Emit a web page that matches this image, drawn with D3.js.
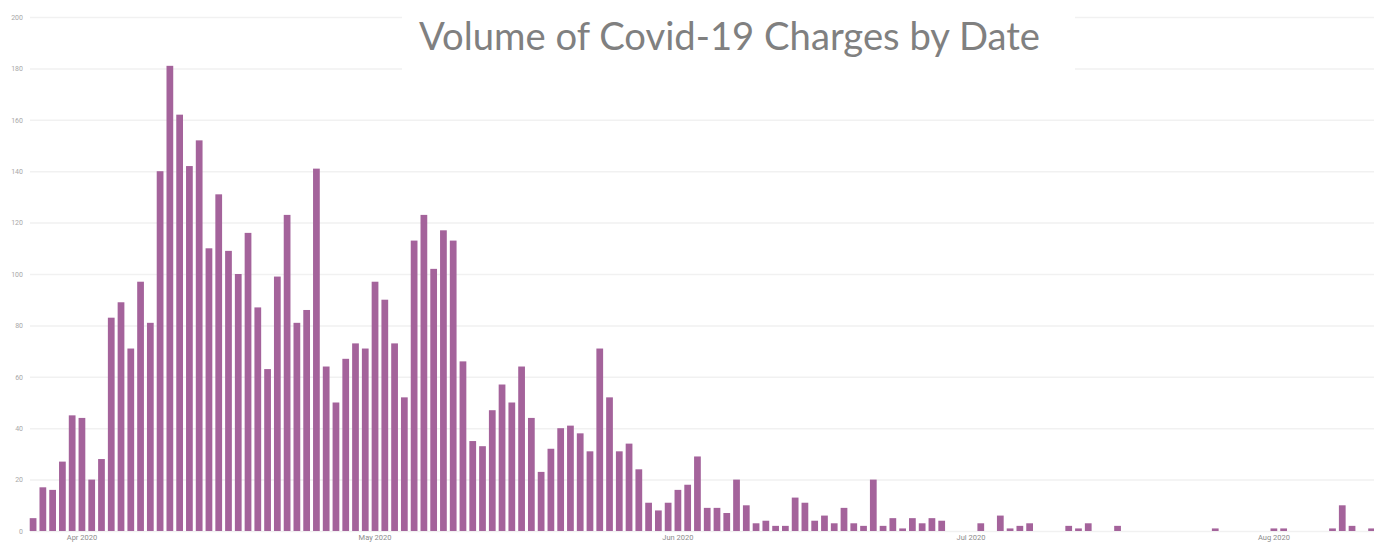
<!DOCTYPE html>
<html>
<head>
<meta charset="utf-8">
<script src="https://cdnjs.cloudflare.com/ajax/libs/d3/7.8.5/d3.min.js"></script>
<style>
  body { margin: 0; background: #fff; }
  svg { display: block; }
</style>
</head>
<body>
<svg></svg>
<script>
let width = 1374, height = 542;

// daily counts, first day is 27 Mar 2020
let startDate = new Date(2020, 2, 27);
let counts = [
  5, 17, 16, 27, 45, 44, 20, 28, 83, 89,
  71, 97, 81, 140, 181, 162, 142, 152, 110, 131,
  109, 100, 116, 87, 63, 99, 123, 81, 86, 141,
  64, 50, 67, 73, 71, 97, 90, 73, 52, 113,
  123, 102, 117, 113, 66, 35, 33, 47, 57, 50,
  64, 44, 23, 32, 40, 41, 38, 31, 71, 52,
  31, 34, 24, 11, 8, 11, 16, 18, 29, 9,
  9, 7, 20, 10, 3, 4, 2, 2, 13, 11,
  4, 6, 3, 9, 3, 2, 20, 2, 5, 1,
  5, 3, 5, 4, 0, 0, 0, 3, 0, 6,
  1, 2, 3, 0, 0, 0, 2, 1, 3, 0,
  0, 2, 0, 0, 0, 0, 0, 0, 0, 0,
  0, 1, 0, 0, 0, 0, 0, 1, 1, 0,
  0, 0, 0, 1, 10, 2, 0, 1
];
let monthTicks = ["2020-04-01", "2020-05-01", "2020-06-01", "2020-07-01", "2020-08-01"];
let yTicks = [0, 20, 40, 60, 80, 100, 120, 140, 160, 180, 200];
let title = "Volume of Covid-19 Charges by Date";

let fmtKey = d3.timeFormat("%Y-%m-%d");
let days = d3.timeDay.range(startDate, d3.timeDay.offset(startDate, counts.length + 1));
let data = counts.map((c, i) => ({ key: fmtKey(days[i]), date: days[i], value: c }));

let svg = d3.select("svg")
    .attr("width", width)
    .attr("height", height);

let x = d3.scaleBand()
    .domain(days.map(fmtKey))
    .range([28.2, 28.2 + days.length * 9.77])
    .paddingInner(0.31)
    .paddingOuter(0.155);

let y = d3.scaleLinear()
    .domain([0, 200])
    .range([531, 17]);

// gridlines + y labels
let yAxis = svg.append("g")
    .attr("transform", "translate(30,0)")
    .call(d3.axisLeft(y).tickValues(yTicks).tickSize(-(width - 30)).tickPadding(7));
yAxis.select(".domain").remove();
yAxis.selectAll(".tick line").attr("stroke", "#f1f1f1").attr("stroke-width", 1.5);
yAxis.selectAll(".tick text")
    .attr("fill", "#a8a8a8")
    .style("font-family", "Roboto, sans-serif")
    .style("font-size", "7px");

// white box behind the title hides gridlines
svg.append("rect")
    .attr("x", 402).attr("y", 0)
    .attr("width", 673).attr("height", 78)
    .attr("fill", "#fff");

svg.append("text")
    .attr("x", 729.5)
    .attr("y", 50)
    .attr("text-anchor", "middle")
    .attr("fill", "#808080")
    .style("font-family", "Lato, 'Open Sans', sans-serif")
    .style("font-size", "38px")
    .attr("textLength", 621)
    .attr("lengthAdjust", "spacingAndGlyphs")
    .text(title);

// bars
svg.append("g")
    .selectAll("rect")
    .data(data.filter(d => d.value > 0))
    .enter()
    .append("rect")
    .attr("x", d => x(d.key))
    .attr("y", d => y(d.value))
    .attr("width", x.bandwidth())
    .attr("height", d => y(0) - y(d.value))
    .attr("fill", "#a4639b");

// month labels
let xAxis = svg.append("g")
    .attr("transform", "translate(0,531)")
    .call(d3.axisBottom(x)
        .tickValues(monthTicks)
        .tickSize(0)
        .tickPadding(4)
        .tickFormat(k => d3.timeFormat("%b %Y")(d3.timeParse("%Y-%m-%d")(k))));
xAxis.select(".domain").remove();
xAxis.selectAll(".tick text")
    .attr("fill", "#8c8c8c")
    .style("font-family", "Roboto, sans-serif")
    .style("font-size", "7.5px");
</script>
</body>
</html>
